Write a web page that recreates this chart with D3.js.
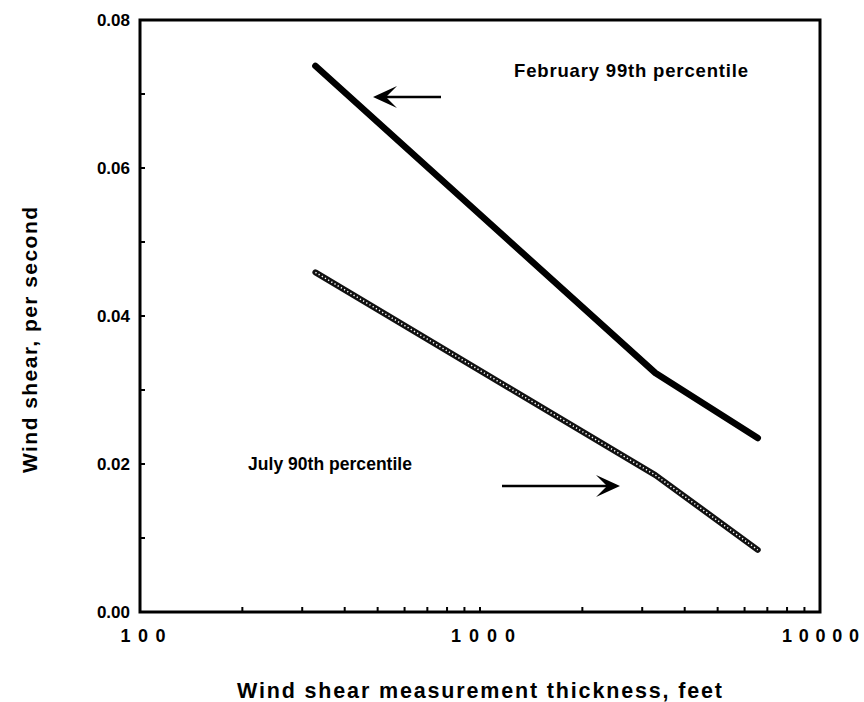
<!DOCTYPE html>
<html><head><meta charset="utf-8">
<script src="https://cdn.jsdelivr.net/npm/d3@7"></script>
<style>body{margin:0;background:#fff}svg{display:block}text{font-family:"Liberation Sans",Arial,sans-serif;font-weight:bold;fill:#000}</style>
</head><body><svg id="c" width="864" height="702"></svg>
<script>
// Data
const thicknessFeb = [328, 3280, 6560];
const shearFeb = [0.0738, 0.0323, 0.0235];
const thicknessJul = [328, 3280, 6560];
const shearJul = [0.0459, 0.0185, 0.0084];
const yTicks = [0.00, 0.02, 0.04, 0.06, 0.08];
const yMinorTicks = [0.01, 0.03, 0.05, 0.07];
const xTickLabels = [{v:100, t:"100"}, {v:1000, t:"1000"}, {v:10000, t:"10000"}];
const xMinorTicks = [200,300,400,500,600,700,800,900,2000,3000,4000,5000,6000,7000,8000,9000];
const labelFeb = "February 99th percentile";
const labelJul = "July 90th percentile";
const xTitle = "Wind shear measurement thickness, feet";
const yTitle = "Wind shear, per second";

const svg = d3.select("#c");
const L = 140, R = 820, T = 20, B = 612;
const x = d3.scaleLog().domain([100, 10000]).range([L, R]);
const y = d3.scaleLinear().domain([0, 0.08]).range([B, T]);

// place text (start-anchored) so that its ink spans [x0, x0+width];
// spacing is applied to all but the last character so nothing trails.
function fitText(sel, x0, width) {
  const s = sel.text(), n = s.length;
  const nat = sel.node().getComputedTextLength();
  const ls = (width - nat) / Math.max(1, n - 1);
  sel.text(null).attr("x", x0);
  sel.append("tspan").style("letter-spacing", ls + "px").text(s.slice(0, n - 1));
  sel.append("tspan").text(s.slice(n - 1));
  return sel;
}

// ticks (inward)
const g = svg.append("g");
yTicks.concat(yMinorTicks).forEach(v => {
  g.append("line").attr("x1", L).attr("x2", L + 5).attr("y1", y(v)).attr("y2", y(v))
   .attr("stroke", "#000").attr("stroke-width", 2);
});
xMinorTicks.concat([1000]).forEach(v => {
  g.append("line").attr("x1", x(v)).attr("x2", x(v)).attr("y1", B).attr("y2", B - 5)
   .attr("stroke", "#000").attr("stroke-width", 2);
});
// frame
svg.append("rect").attr("x", L).attr("y", T).attr("width", R - L).attr("height", B - T)
  .attr("fill", "none").attr("stroke", "#000").attr("stroke-width", 3);

// y tick labels
yTicks.forEach(v => {
  svg.append("text").attr("x", 130).attr("y", y(v)).attr("dy", "0.35em")
    .attr("text-anchor", "end").attr("font-size", 17).text(d3.format(".2f")(v));
});
// x tick labels (spaced digits), centred a little right of the tick
const xLabW = {"100": 45, "1000": 64, "10000": 77};
xTickLabels.forEach(d => {
  const w = xLabW[d.t];
  const cx = Math.min(x(d.v) + 3, 859 - w / 2);
  const t = svg.append("text").attr("y", 642).attr("font-size", 18).text(d.t);
  fitText(t, cx - w / 2, w);
});

// axis titles
fitText(svg.append("text").attr("y", 698).attr("font-size", 21.5).text(xTitle), 237, 485);
const yt = svg.append("text").attr("transform", "translate(37,473) rotate(-90)")
  .attr("y", 0).attr("font-size", 21).text(yTitle);
fitText(yt, 0, 266);

// lines
const line = d3.line().x(d => x(d[0])).y(d => y(d[1]));
const feb = d3.zip(thicknessFeb, shearFeb);
const jul = d3.zip(thicknessJul, shearJul);
svg.append("path").datum(feb).attr("d", line).attr("fill", "none")
  .attr("stroke", "#000").attr("stroke-width", 6.5).attr("stroke-linecap", "round").attr("stroke-linejoin", "round");
svg.append("path").datum(jul).attr("d", line).attr("fill", "none")
  .attr("stroke", "#111").attr("stroke-width", 6).attr("stroke-linecap", "round").attr("stroke-linejoin", "round");
svg.append("path").datum(jul).attr("d", line).attr("fill", "none")
  .attr("stroke", "#fff").attr("stroke-width", 1.5).attr("stroke-dasharray", "1.3,2.4");

// annotations
fitText(svg.append("text").attr("y", 77).attr("font-size", 18.5).text(labelFeb), 514, 234);
fitText(svg.append("text").attr("y", 470).attr("font-size", 17.5).text(labelJul), 248, 164);

function arrow(x0, x1, yy) {
  const dir = Math.sign(x1 - x0);
  svg.append("line").attr("x1", x0).attr("x2", x1 - dir * 10).attr("y1", yy).attr("y2", yy)
    .attr("stroke", "#000").attr("stroke-width", 2.5);
  const bx = x1 - dir * 24, nx = x1 - dir * 13;
  svg.append("path").attr("d", `M${x1},${yy} L${bx},${yy - 11} L${nx},${yy} L${bx},${yy + 11} Z`)
    .attr("fill", "#000");
}
arrow(441, 373, 97);
arrow(502, 620, 486);
</script></body></html>
